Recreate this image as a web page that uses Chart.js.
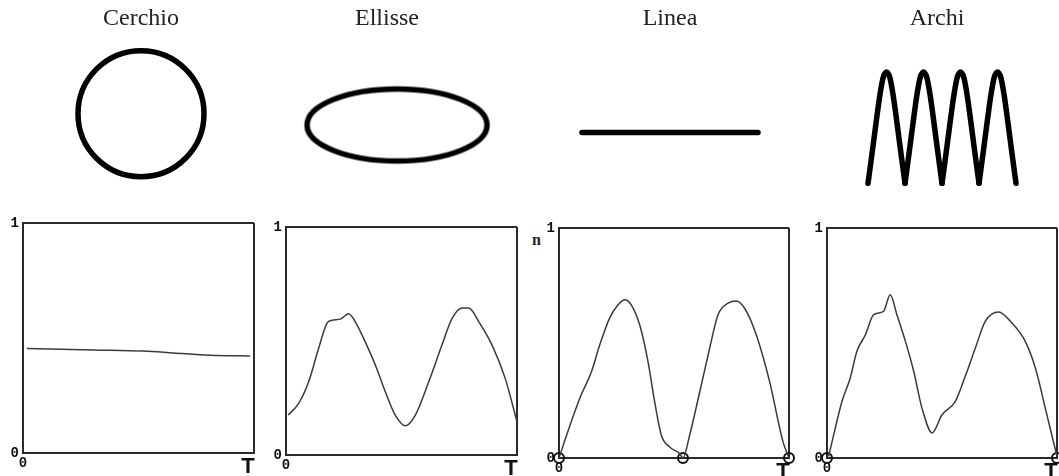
<!DOCTYPE html>
<html lang="it">
<head>
<meta charset="utf-8">
<title>Cerchio, Ellisse, Linea, Archi</title>
<script src="https://cdn.jsdelivr.net/npm/chart.js@4.4.1/dist/chart.umd.min.js"></script>
<style>
  html, body { margin: 0; padding: 0; background: #fff; }
  #tavola { position: relative; width: 1059px; height: 476px; overflow: hidden; }
  #tavola canvas { position: absolute; }
  .etichetta { position: absolute; font: bold 16px 'Liberation Serif'; line-height: 16px; color: #222; }
</style>
</head>
<body>
<div id="tavola">
  <span class="etichetta" style="left:532px; top:232px">n</span>
</div>
<script>
const titoli = ['Cerchio', 'Ellisse', 'Linea', 'Archi'];

// forme disegnate in alto (unita' arbitrarie)
const lineaX = [-1, 1];
const lineaY = [0, 0];
const archiX = [0, 0.11, 0.22, 0.32, 0.41, 0.5, 0.59, 0.68, 0.78, 0.89, 1,
                1.11, 1.22, 1.32, 1.41, 1.5, 1.59, 1.68, 1.78, 1.89, 2,
                2.11, 2.22, 2.32, 2.41, 2.5, 2.59, 2.68, 2.78, 2.89, 3,
                3.11, 3.22, 3.32, 3.41, 3.5, 3.59, 3.68, 3.78, 3.89, 4];
const archiY = [0, 0.27, 0.55, 0.79, 0.95, 1, 0.95, 0.79, 0.55, 0.27, 0,
                0.27, 0.55, 0.79, 0.95, 1, 0.95, 0.79, 0.55, 0.27, 0,
                0.27, 0.55, 0.79, 0.95, 1, 0.95, 0.79, 0.55, 0.27, 0,
                0.27, 0.55, 0.79, 0.95, 1, 0.95, 0.79, 0.55, 0.27, 0];

// curve n(t) sotto, t normalizzato su [0, T]
const tCerchio = [0.017, 0.305, 0.522, 0.651, 0.810, 0.983];
const nCerchio = [0.454, 0.448, 0.443, 0.435, 0.425, 0.422];

const tEllisse = [0.009, 0.055, 0.098, 0.141, 0.177, 0.199, 0.235, 0.271, 0.300, 0.343, 0.387, 0.430,
                  0.473, 0.517, 0.560, 0.618, 0.675, 0.719, 0.762, 0.791, 0.835, 0.892, 0.949, 1.0];
const nEllisse = [0.175, 0.226, 0.321, 0.467, 0.577, 0.591, 0.596, 0.620, 0.584, 0.496, 0.394, 0.277,
                  0.175, 0.128, 0.175, 0.321, 0.482, 0.599, 0.645, 0.645, 0.584, 0.482, 0.336, 0.146];

const tLinea = [0, 0.043, 0.090, 0.141, 0.177, 0.220, 0.257, 0.286, 0.314, 0.351, 0.387, 0.416, 0.445,
                0.481, 0.525, 0.539, 0.568, 0.612, 0.655, 0.691, 0.735, 0.771, 0.807, 0.858, 0.916, 0.974, 1];
const nLinea = [0, 0.128, 0.259, 0.375, 0.491, 0.608, 0.666, 0.688, 0.666, 0.578, 0.419, 0.244, 0.099,
                0.048, 0.019, 0, 0.099, 0.288, 0.477, 0.622, 0.673, 0.683, 0.651, 0.535, 0.331, 0.070, 0];
const zeriLinea = [0, 0.539, 1];

const tArchi = [0.007, 0.036, 0.065, 0.101, 0.130, 0.167, 0.203, 0.246, 0.275, 0.304, 0.341, 0.377, 0.413,
                0.457, 0.500, 0.558, 0.601, 0.645, 0.688, 0.746, 0.804, 0.862, 0.906, 0.949, 1.0];
const nArchi = [0.007, 0.130, 0.246, 0.348, 0.464, 0.536, 0.623, 0.638, 0.710, 0.623, 0.507, 0.377, 0.217,
                0.109, 0.188, 0.246, 0.355, 0.478, 0.594, 0.635, 0.587, 0.507, 0.391, 0.217, 0.007];
const zeriArchi = [0, 1];

const etichetteN = ['0', '1'];
const etichetteT = ['0', 'T'];

const tavola = document.getElementById('tavola');

function creaCanvas(left, top, w, h) {
  const c = document.createElement('canvas');
  c.width = w;
  c.height = h;
  c.style.left = left + 'px';
  c.style.top = top + 'px';
  c.style.width = w + 'px';
  c.style.height = h + 'px';
  tavola.appendChild(c);
  return c;
}

function punti(xs, ys) {
  return xs.map((x, i) => ({ x: x, y: ys[i] }));
}

// ellisse come marker disegnato a parte
function markerEllisse(rx, ry, spessore) {
  const c = document.createElement('canvas');
  c.width = 2 * rx + 2 * spessore;
  c.height = 2 * ry + 2 * spessore;
  const ctx = c.getContext('2d');
  ctx.lineWidth = spessore;
  ctx.strokeStyle = '#000';
  ctx.beginPath();
  ctx.ellipse(c.width / 2, c.height / 2, rx, ry, 0, 0, Math.PI * 2);
  ctx.stroke();
  return c;
}

// archi: un dataset per ogni arco, cosi' le punte in basso restano spigolose
const archiPunti = punti(archiX, archiY);
const archiTratti = [];
archiPunti.forEach((p, i) => {
  if (p.y === 0 && i < archiPunti.length - 1) archiTratti.push([p]);
  else archiTratti[archiTratti.length - 1].push(p);
  if (p.y === 0 && i > 0 && i < archiPunti.length - 1) archiTratti[archiTratti.length - 2].push(p);
});

const tratto = { borderColor: '#000', borderWidth: 5.5, borderCapStyle: 'round', borderJoinStyle: 'round',
                 showLine: true, pointRadius: 0, clip: false };

const forme = [
  { left: 0, width: 282, x: [-1, 1], y: [-1.23, 0.77],
    datasets: [{ data: [{ x: 0, y: 0 }], pointStyle: 'circle', pointRadius: 63, pointBorderWidth: 5.5,
                 pointBorderColor: '#000', pointBackgroundColor: 'rgba(0,0,0,0)', clip: false }] },
  { left: 272, width: 230, x: [-1.087, 0.913], y: [-1.11, 0.89],
    datasets: [{ data: [{ x: 0, y: 0 }], pointStyle: markerEllisse(90, 36, 5.5), clip: false }] },
  { left: 560, width: 220, x: [-1.25, 1.25], y: [-1.03, 0.97],
    datasets: [Object.assign({ data: punti(lineaX, lineaY) }, tratto)] },
  { left: 840, width: 194, x: [-0.757, 4.486], y: [-0.42, 1.28],
    datasets: archiTratti.map(a => Object.assign({ data: a, cubicInterpolationMode: 'monotone' }, tratto)) }
];

forme.forEach((f, i) => {
  new Chart(creaCanvas(f.left, 0, f.width, 230), {
    type: 'scatter',
    data: { datasets: f.datasets },
    options: {
      responsive: false,
      animation: false,
      devicePixelRatio: 1,
      layout: { padding: 0, autoPadding: false },
      scales: {
        x: { display: false, min: f.x[0], max: f.x[1] },
        y: { display: false, min: f.y[0], max: f.y[1] }
      },
      plugins: {
        legend: { display: false },
        tooltip: { enabled: false },
        title: {
          display: true,
          text: titoli[i],
          color: '#222',
          font: { family: 'Liberation Serif', size: 24, weight: 'normal' },
          padding: { top: 4, bottom: 8 }
        }
      }
    }
  });
});

// grafici n(t)
const riquadri = [
  { l: 23, t: 223, r: 254, b: 453 },
  { l: 286, t: 227, r: 517, b: 455 },
  { l: 559, t: 228, r: 789, b: 458 },
  { l: 827, t: 228, r: 1057, b: 458 }
];
const curve = [
  { t: tCerchio, n: nCerchio, zeri: [] },
  { t: tEllisse, n: nEllisse, zeri: [] },
  { t: tLinea, n: nLinea, zeri: zeriLinea },
  { t: tArchi, n: nArchi, zeri: zeriArchi }
];

const assiW = 26, assiH = 26, margineSu = 14, margineDx = 16;
const bordo = { color: '#2a2a2a', width: 2 };
const griglia = { color: '#2a2a2a', lineWidth: 2, drawTicks: false };

riquadri.forEach((q, i) => {
  const c = curve[i];
  const canvas = creaCanvas(q.l - assiW, q.t - margineSu,
                            q.r - q.l + assiW + margineDx, q.b - q.t + margineSu + assiH);
  new Chart(canvas, {
    type: 'scatter',
    data: {
      datasets: [
        { data: punti(c.t, c.n), showLine: true, borderColor: '#3a3a3a', borderWidth: 1.5,
          pointRadius: 0, tension: 0.4, cubicInterpolationMode: 'monotone' },
        { data: c.zeri.map(x => ({ x: x, y: 0 })), showLine: false, pointRadius: 5, pointBorderWidth: 2,
          pointBorderColor: '#111', pointBackgroundColor: 'rgba(0,0,0,0)', clip: false }
      ]
    },
    options: {
      responsive: false,
      animation: false,
      devicePixelRatio: 1,
      layout: { padding: { top: margineSu, right: margineDx, left: 0, bottom: 0 }, autoPadding: false },
      scales: {
        x: {
          type: 'linear', min: 0, max: 1,
          afterBuildTicks: s => { s.ticks = [{ value: 0 }, { value: 1 }]; },
          afterFit: s => { s.height = assiH; },
          grid: griglia,
          border: bordo,
          ticks: {
            autoSkip: false, maxRotation: 0, padding: 1, color: '#111',
            callback: (v, k) => k === 1 ? etichetteT[1] + '  ' : etichetteT[0],
            font: ctx => ctx.index === 1
              ? { family: 'Liberation Sans', size: 22, weight: 'bold' }
              : { family: 'Liberation Mono', size: 14, weight: 'bold', lineHeight: 1.4 }
          }
        },
        y: {
          min: 0, max: 1,
          afterFit: s => { s.width = assiW; },
          grid: griglia,
          border: bordo,
          ticks: {
            stepSize: 1, padding: 4, color: '#111',
            callback: v => etichetteN[v],
            font: { family: 'Liberation Mono', size: 14, weight: 'bold' }
          }
        }
      },
      plugins: {
        legend: { display: false },
        tooltip: { enabled: false },
        title: { display: false }
      }
    }
  });
});
</script>
</body>
</html>
